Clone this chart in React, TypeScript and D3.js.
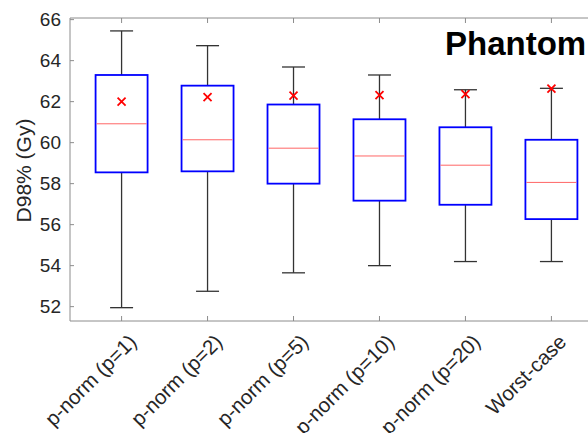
import React, { useEffect, useRef } from 'react';
import * as d3 from 'd3';

const categories = ['p-norm (p=1)', 'p-norm (p=2)', 'p-norm (p=5)', 'p-norm (p=10)', 'p-norm (p=20)', 'Worst-case'];
const whiskerLow = [51.95, 52.75, 53.65, 54.0, 54.2, 54.2];
const q1 = [58.55, 58.6, 58.0, 57.17, 56.97, 56.27];
const median = [60.92, 60.14, 59.73, 59.35, 58.9, 58.06];
const q3 = [63.3, 62.78, 61.86, 61.14, 60.75, 60.14];
const whiskerHigh = [65.45, 64.73, 63.69, 63.3, 62.58, 62.65];
const means = [62.0, 62.22, 62.29, 62.32, 62.37, 62.63];
const yTicks = [52, 54, 56, 58, 60, 62, 64, 66];

const W = 588;
const H = 433;

export default function App() {
	const ref = useRef<SVGSVGElement>(null);

	useEffect(() => {
		const svg = d3.select(ref.current);
		svg.selectAll('*').remove();

		const left = 70;
		const top = 18;
		const bottom = 321;
		const right = 603;

		const x = d3.scalePoint<string>().domain(categories).range([left, right]).padding(0.6);
		const y = d3.scaleLinear().domain([51.3, 66.08]).range([bottom, top]);

		const font = 'Arial, "Liberation Sans", sans-serif';
		const axisColor = '#8c8c8c';
		const textColor = '#262626';

		// frame
		const frame = svg.append('g').attr('stroke', axisColor).attr('stroke-width', 1).attr('fill', 'none');
		frame.append('line').attr('x1', left).attr('x2', W).attr('y1', top).attr('y2', top);
		frame.append('line').attr('x1', left).attr('x2', W).attr('y1', bottom).attr('y2', bottom);
		frame.append('line').attr('x1', left).attr('x2', left).attr('y1', top).attr('y2', bottom);

		// y ticks
		yTicks.forEach(t => {
			frame.append('line').attr('x1', left).attr('x2', left + 4).attr('y1', y(t)).attr('y2', y(t));
			svg.append('text')
				.attr('x', left - 9)
				.attr('y', y(t))
				.attr('dy', '0.35em')
				.attr('text-anchor', 'end')
				.attr('font-family', font)
				.attr('font-size', 19)
				.attr('fill', textColor)
				.text(t);
		});

		// x ticks + labels
		categories.forEach(c => {
			const cx = x(c)!;
			frame.append('line').attr('x1', cx).attr('x2', cx).attr('y1', bottom).attr('y2', bottom - 5);
			frame.append('line').attr('x1', cx).attr('x2', cx).attr('y1', top).attr('y2', top + 5);
			svg.append('text')
				.attr('transform', `translate(${cx + 6},${bottom + 12}) rotate(-45)`)
				.attr('text-anchor', 'end')
				.attr('dy', '0.7em')
				.attr('font-family', font)
				.attr('font-size', 20.5)
				.attr('fill', textColor)
				.text(c);
		});

		const boxW = 52;
		const capW = 23;

		categories.forEach((c, i) => {
			const cx = x(c)!;
			const g = svg.append('g');
			// whiskers
			g.append('line').attr('x1', cx).attr('x2', cx).attr('y1', y(whiskerHigh[i])).attr('y2', y(q3[i]))
				.attr('stroke', '#333').attr('stroke-width', 1.3);
			g.append('line').attr('x1', cx).attr('x2', cx).attr('y1', y(q1[i])).attr('y2', y(whiskerLow[i]))
				.attr('stroke', '#333').attr('stroke-width', 1.3);
			g.append('line').attr('x1', cx - capW / 2).attr('x2', cx + capW / 2).attr('y1', y(whiskerHigh[i])).attr('y2', y(whiskerHigh[i]))
				.attr('stroke', '#333').attr('stroke-width', 1.3);
			g.append('line').attr('x1', cx - capW / 2).attr('x2', cx + capW / 2).attr('y1', y(whiskerLow[i])).attr('y2', y(whiskerLow[i]))
				.attr('stroke', '#333').attr('stroke-width', 1.3);
			// box
			g.append('rect')
				.attr('x', cx - boxW / 2)
				.attr('y', y(q3[i]))
				.attr('width', boxW)
				.attr('height', y(q1[i]) - y(q3[i]))
				.attr('fill', 'none')
				.attr('stroke', '#0000ff')
				.attr('stroke-width', 1.8);
			// median
			g.append('line').attr('x1', cx - boxW / 2 + 1).attr('x2', cx + boxW / 2 - 1).attr('y1', y(median[i])).attr('y2', y(median[i]))
				.attr('stroke', '#ff6666').attr('stroke-width', 1);
			// mean marker
			const m = y(means[i]);
			const s = 4;
			g.append('path')
				.attr('d', `M${cx - s},${m - s}L${cx + s},${m + s}M${cx - s},${m + s}L${cx + s},${m - s}`)
				.attr('stroke', '#ff0000')
				.attr('stroke-width', 1.8)
				.attr('fill', 'none');
		});

		// y label
		svg.append('text')
			.attr('transform', `translate(${31},${(top + bottom) / 2 + 1}) rotate(-90)`)
			.attr('text-anchor', 'middle')
			.attr('font-family', font)
			.attr('font-size', 21)
			.attr('fill', textColor)
			.text('D98% (Gy)');

		// title
		svg.append('text')
			.attr('x', 445)
			.attr('y', 55)
			.attr('font-family', font)
			.attr('font-size', 33)
			.attr('font-weight', 'bold')
			.attr('fill', '#000')
			.text('Phantom');
	}, []);

	return (
		<div style={{ position: 'absolute', left: 0, top: 0 }}>
			<svg ref={ref} width={W} height={H} style={{ display: 'block', background: '#fff' }} />
		</div>
	);
}
